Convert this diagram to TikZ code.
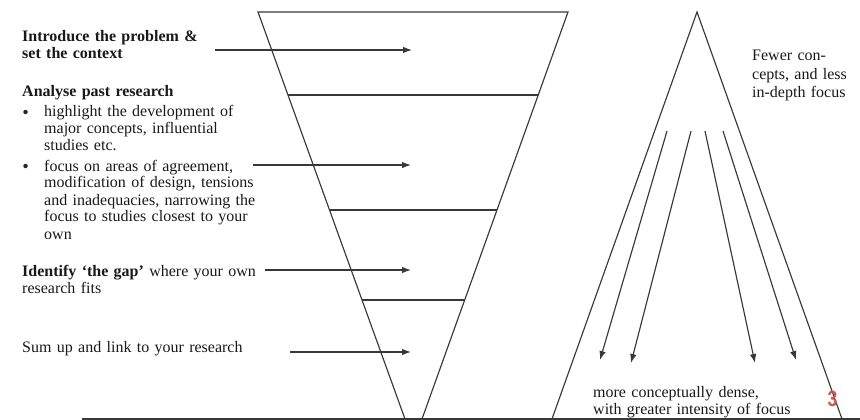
\documentclass[tikz,border=0pt]{standalone}
\usepackage{fontspec}
\setmainfont{Liberation Serif}
\newfontfamily\numfont{Liberation Sans}
\usetikzlibrary{arrows.meta,calc}
\definecolor{linegray}{gray}{0.22}
\definecolor{pagered}{RGB}{208,88,78}
\tikzset{
  shape line/.style={draw=linegray, line width=1.15pt},
  pointer/.style={draw=linegray, line width=1.15pt, -{Latex[length=9pt,width=6.5pt]}},
  txt/.style={inner sep=0pt, anchor=base west, text width=#1, align=left,
    font=\fontsize{16}{17}\selectfont, text=black!90},
  txt/.default=250pt,
  bul/.style={circle, fill=black!85, inner sep=0pt, minimum size=4.5pt}
}
\begin{document}
\begin{tikzpicture}[x=1pt,y=-1pt]
\useasboundingbox (0,0) rectangle (860,420);
% funnel
\coordinate (TL) at (258,12);
\coordinate (TR) at (568,12);
\coordinate (BL) at (405,419);
\coordinate (BR) at (422,419);
\draw[shape line] (BL) -- (TL) -- (TR) -- (BR);
\draw[shape line] ($(TL)!0.2039!(BL)$) -- ($(TR)!0.2039!(BR)$);
\draw[shape line] ($(TL)!0.4865!(BL)$) -- ($(TR)!0.4865!(BR)$);
\draw[shape line] ($(TL)!0.7076!(BL)$) -- ($(TR)!0.7076!(BR)$);
% triangle
\coordinate (apex) at (697,12);
\coordinate (tL) at (552,419);
\coordinate (tR) at (842,419);
\draw[shape line] (tL) -- (apex) -- (tR);
% base line
\coordinate (base0) at (82,418.8);
\coordinate (base1) at (860,418.8);
\draw[draw=linegray, line width=1.6pt] (base0) -- (base1);
% left texts
\node[txt] (intro) at (22,42) {\textbf{Introduce the problem \&}\\\textbf{set the context}};
\node[txt] (analyse) at (22,96) {\textbf{Analyse past research}};
\node[bul] (b1) at (25.5,112) {};
\node[txt] (item1) at (44,117) {highlight the development of\\major concepts, influential\\studies etc.};
\node[bul] (b2) at (25.5,166) {};
\node[txt] (item2) at (44,171) {focus on areas of agreement,\\modification of design, tensions\\and inadequacies, narrowing the\\focus to studies closest to your\\own};
\node[txt] (gap) at (22,276) {\textbf{Identify ‘the gap’} where your own\\research fits};
\node[txt] (sum) at (22,352) {Sum up and link to your research};
% left arrows
\coordinate (a1s) at (215,50);  \coordinate (a1e) at (412,50);
\coordinate (a2s) at (253,165); \coordinate (a2e) at (411,165);
\coordinate (a3s) at (265,270); \coordinate (a3e) at (411,270);
\coordinate (a4s) at (290,352); \coordinate (a4e) at (411,352);
\draw[pointer] (a1s) -- (a1e);
\draw[pointer] (a2s) -- (a2e);
\draw[pointer] (a3s) -- (a3e);
\draw[pointer] (a4s) -- (a4e);
% triangle arrows
\coordinate (r1s) at (667,131); \coordinate (r1e) at (600,360);
\coordinate (r2s) at (691,131); \coordinate (r2e) at (631,363);
\coordinate (r3s) at (705,131); \coordinate (r3e) at (755,363);
\coordinate (r4s) at (723,131); \coordinate (r4e) at (796,360);
\draw[pointer] (r1s) -- (r1e);
\draw[pointer] (r2s) -- (r2e);
\draw[pointer] (r3s) -- (r3e);
\draw[pointer] (r4s) -- (r4e);
% right texts
\node[txt=110pt, font=\fontsize{16}{18.5}\selectfont] (fewer) at (752,61) {Fewer con-\\cepts, and less\\in-depth focus};
\node[txt=230pt] (dense) at (593,397) {more conceptually dense,\\with greater intensity of focus};
\node[inner sep=0pt, text=pagered, font=\numfont\bfseries\fontsize{22}{22}\selectfont, xscale=0.8] (pagenum) at (832.5,398.5) {3};
\end{tikzpicture}
\end{document}
